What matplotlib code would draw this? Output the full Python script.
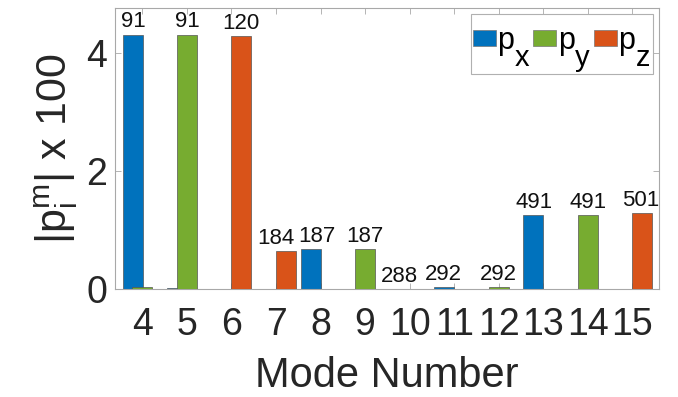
import matplotlib
matplotlib.use("Agg")
import matplotlib.pyplot as plt
from matplotlib.patches import Rectangle, Patch
from matplotlib.transforms import IdentityTransform
import numpy as np

plt.rcParams['font.family'] = ['Liberation Sans', 'DejaVu Sans']
plt.rcParams['mathtext.fontset'] = 'custom'
plt.rcParams['mathtext.rm'] = 'Liberation Sans'
plt.rcParams['mathtext.it'] = 'Liberation Sans'

modes = [4, 5, 6, 7, 8, 9, 10, 11, 12, 13, 14, 15]
px = [4.31, 0.02, 0.0, 0.0, 0.68, 0.0, 0.005, 0.04, 0.0, 1.25, 0.0, 0.0]
py = [0.03, 4.31, 0.0, 0.0, 0.0, 0.68, 0.0, 0.0, 0.04, 0.0, 1.25, 0.0]
pz = [0.0, 0.0, 4.29, 0.65, 0.0, 0.0, 0.0, 0.0, 0.0, 0.0, 0.0, 1.29]
labels = ['91', '91', '120', '184', '187', '187', '288', '292', '292', '491', '491', '501']
label_series = [0, 1, 2, 2, 0, 1, 0, 0, 1, 0, 1, 2]
label_dx = [-0.21, 0.0, 0.21, 0.0, -0.09, 0.0, -0.22, -0.25, 0.0, -0.21, 0.0, 0.19]
series_main = ['p', 'p', 'p']
series_sub = ['x', 'y', 'z']
colors = ['#0072BD', '#77AC30', '#D95319']

fig = plt.figure(figsize=(6.78, 3.97), dpi=100)
ax = fig.add_axes([0.170, 0.272, 0.802, 0.708])

x = np.array(modes, dtype=float)
offsets = [-0.22, 0.0, 0.22]
width = 0.45
series = [px, py, pz]
for s, (vals, off, c) in enumerate(zip(series, offsets, colors)):
    ax.bar(x + off, vals, width=width, color=c, edgecolor='#555555',
           linewidth=0.5, zorder=2 + s)

for i, (lab, s) in enumerate(zip(labels, label_series)):
    ax.annotate(lab, (x[i] + label_dx[i], series[s][i]), xytext=(0, 1.5),
                textcoords='offset points', ha='center', va='bottom',
                fontsize=16, color='#111111', zorder=10)

ax.set_xlim(3.39, 15.6)
ax.set_ylim(0, 4.76)
ax.set_xticks(modes)
ax.set_xticklabels([str(m) for m in modes])
ax.set_yticks([0, 2, 4])
spine_c = '#a8a8a8'
for sp in ax.spines.values():
    sp.set_color(spine_c)
    sp.set_linewidth(0.8)
ax.tick_params(direction='in', length=4, width=0.6, color=spine_c,
               top=True, right=True, labelsize=27, labelcolor='#262626', pad=6)
ax.tick_params(axis='x', pad=13)

ax.set_xlabel('Mode Number', fontsize=30, color='#262626', labelpad=9)
ax.set_ylabel(r'$\mathregular{|p_i^m|}$ x 100', fontsize=31, color='#262626', labelpad=4)

# legend: main letter with full-size subscript drawn separately
lfs = 22
em = lfs * fig.dpi / 72.0
sub_room = 16.0  # pixels reserved for each subscript
handles = [Patch(facecolor=c, edgecolor='#777777', linewidth=0.5) for c in colors]
leg = ax.legend(handles, series_main, loc='upper right',
                bbox_to_anchor=((651 - sub_room) / 678, 1 - 26 / 397),
                bbox_transform=fig.transFigure,
                ncol=3, fontsize=lfs, frameon=False, borderpad=0, borderaxespad=0,
                handlelength=0.75, handleheight=0.46, handletextpad=0.05,
                columnspacing=(sub_room + 3) / em)
leg.set_zorder(6)

fig.canvas.draw()
renderer = fig.canvas.get_renderer()
lbb = leg.get_window_extent(renderer)
frame = Rectangle((lbb.x0 - 2, lbb.y0 - 18), lbb.width + sub_room + 4, lbb.height + 30,
                  transform=IdentityTransform(), facecolor='white', edgecolor='#b0b0b0',
                  linewidth=0.8, zorder=5.5, clip_on=False)
ax.add_artist(frame)
for t, sub in zip(leg.get_texts(), series_sub):
    tb = t.get_window_extent(renderer)
    _, _, d = renderer.get_text_width_height_descent('p', t.get_fontproperties(), ismath=False)
    base = tb.y0 + d
    ax.text(tb.x1 + 0.5, base - 17, sub, transform=IdentityTransform(),
            fontsize=lfs - 1, color='black', ha='left', va='baseline',
            zorder=7, clip_on=False)

fig.savefig('out.png', dpi=100)
